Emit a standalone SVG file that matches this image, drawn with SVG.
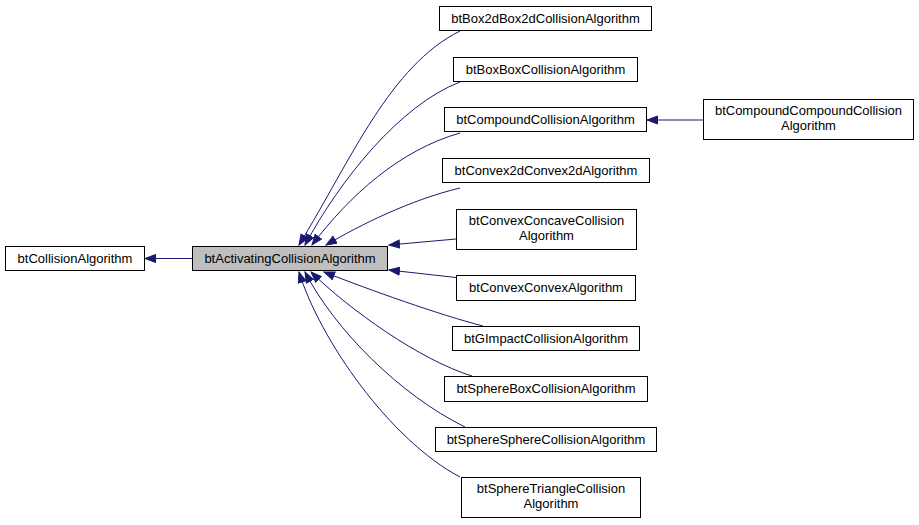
<svg xmlns="http://www.w3.org/2000/svg" width="919" height="525" viewBox="0 0 919 525">
<style>
.node rect{fill:#ffffff;stroke:#000000;stroke-width:1}
.node.cur rect{fill:#bfbfbf}
.node text{font-family:"Liberation Sans",Arial,sans-serif;font-size:13px;fill:#000000;text-anchor:middle}
.edges path{fill:none;stroke:#191970;stroke-width:1;marker-start:url(#ah)}
</style>
<defs>
<marker id="ah" markerUnits="userSpaceOnUse" markerWidth="13" markerHeight="10" refX="11" refY="4.5" orient="auto-start-reverse" viewBox="0 0 13 10">
<path d="M0.5,0.5 L11,4.5 L0.5,8.5 z" fill="#191970" stroke="#191970" stroke-width="1"/>
</marker>
</defs>
<rect width="919" height="525" fill="#ffffff"/>
<g class="edges" id="edges">
<path d="M145,258.5 L192,258.5"/>
<path d="M647,120 L703,120"/>
<path d="M299,245 C352,158 390,66 460,31"/>
<path d="M305,245 C340,180 400,105 460,82"/>
<path d="M312,245 C350,195 400,150 460,133"/>
<path d="M326,245 C360,225 410,200 460,188"/>
<path d="M389,245 L456,239"/>
<path d="M389,270 L456,277.5"/>
<path d="M324,272 C370,290 440,315 483,326"/>
<path d="M311,272 C350,310 420,360 472,376"/>
<path d="M305,272 C335,330 400,395 465,427"/>
<path d="M299,272 C320,340 390,440 460,477"/>
</g>
<g class="node" id="btCollisionAlgorithm"><rect x="5.5" y="246.5" width="139" height="24"/><text x="75" y="263">btCollisionAlgorithm</text></g>
<g class="node cur" id="btActivatingCollisionAlgorithm"><rect x="192.5" y="246.5" width="195" height="24"/><text x="290" y="263">btActivatingCollisionAlgorithm</text></g>
<g class="node" id="btBox2dBox2dCollisionAlgorithm"><rect x="439.5" y="6.5" width="212" height="24"/><text x="545.5" y="23">btBox2dBox2dCollisionAlgorithm</text></g>
<g class="node" id="btBoxBoxCollisionAlgorithm"><rect x="453.5" y="57.5" width="184" height="24"/><text x="545.5" y="74">btBoxBoxCollisionAlgorithm</text></g>
<g class="node" id="btCompoundCollisionAlgorithm"><rect x="444.5" y="107.5" width="202" height="24"/><text x="545.5" y="124">btCompoundCollisionAlgorithm</text></g>
<g class="node" id="btCompoundCompoundCollisionAlgorithm"><rect x="703.5" y="99.5" width="210" height="40"/><text x="808.5" y="115">btCompoundCompoundCollision</text><text x="808.5" y="130">Algorithm</text></g>
<g class="node" id="btConvex2dConvex2dAlgorithm"><rect x="442.5" y="158.5" width="207" height="24"/><text x="546" y="175">btConvex2dConvex2dAlgorithm</text></g>
<g class="node" id="btConvexConcaveCollisionAlgorithm"><rect x="456.5" y="209.5" width="180" height="40"/><text x="546.5" y="225">btConvexConcaveCollision</text><text x="546.5" y="240">Algorithm</text></g>
<g class="node" id="btConvexConvexAlgorithm"><rect x="456.5" y="275.5" width="179" height="25"/><text x="546" y="292">btConvexConvexAlgorithm</text></g>
<g class="node" id="btGImpactCollisionAlgorithm"><rect x="452.5" y="326.5" width="187" height="24"/><text x="546" y="343">btGImpactCollisionAlgorithm</text></g>
<g class="node" id="btSphereBoxCollisionAlgorithm"><rect x="444.5" y="376.5" width="203" height="25"/><text x="546" y="393">btSphereBoxCollisionAlgorithm</text></g>
<g class="node" id="btSphereSphereCollisionAlgorithm"><rect x="435.5" y="427.5" width="221" height="24"/><text x="546" y="444">btSphereSphereCollisionAlgorithm</text></g>
<g class="node" id="btSphereTriangleCollisionAlgorithm"><rect x="461.5" y="477.5" width="179" height="40"/><text x="551" y="493">btSphereTriangleCollision</text><text x="551" y="508">Algorithm</text></g>
</svg>
